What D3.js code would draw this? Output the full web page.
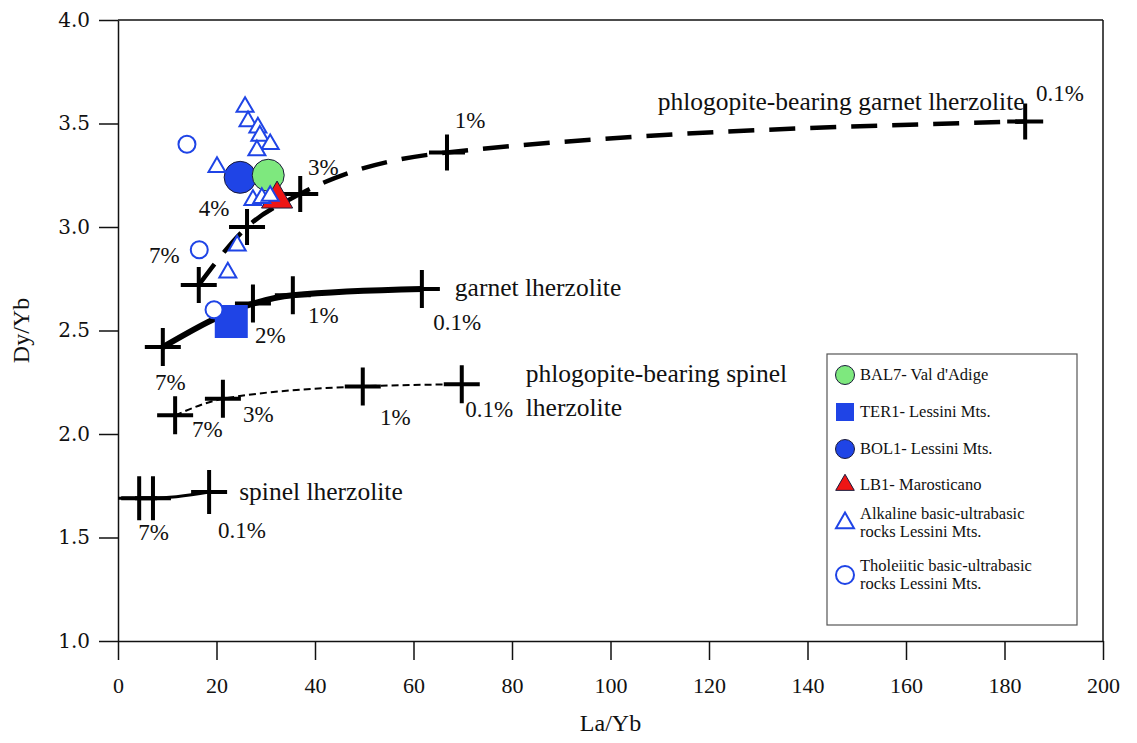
<!DOCTYPE html>
<html><head><meta charset="utf-8">
<script src="https://cdn.jsdelivr.net/npm/d3@7"></script>
<style>
body{margin:0;background:#fff}
</style>
</head><body>
<svg id="chart" width="1137" height="743" font-family="Liberation Serif, Times New Roman, serif"></svg>
<script>
// ---------- data ----------
const xTicks = [0, 20, 40, 60, 80, 100, 120, 140, 160, 180, 200];
const yTicks = [1.0, 1.5, 2.0, 2.5, 3.0, 3.5, 4.0];

// melting curves (crosses at melting degrees)
const phlogGarnetLherz = [[16.4, 2.72], [26.2, 3.00], [37.0, 3.16], [66.8, 3.36], [184.2, 3.51]];
const garnetLherz      = [[9.1, 2.42], [27.4, 2.63], [35.5, 2.67], [61.7, 2.70]];
const phlogSpinelLherz = [[11.6, 2.09], [21.3, 2.17], [49.7, 2.23], [69.8, 2.24]];
const spinelLherzLine  = [[0, 1.69], [4.3, 1.69], [7.1, 1.69], [18.5, 1.72]];
const spinelLherzCross = [[4.3, 1.69], [7.1, 1.69], [18.5, 1.72]];

// samples
const BAL7 = [[30.5, 3.25]];
const BOL1 = [[24.8, 3.24]];
const LB1  = [[32.3, 3.135]];
const TER1 = [[23.0, 2.543]];
const alkaline = [[25.8, 3.58], [26.4, 3.51], [28.4, 3.48], [28.8, 3.44], [30.9, 3.40], [28.2, 3.37],
                  [20.1, 3.29], [27.4, 3.13], [29.2, 3.14], [30.9, 3.15], [24.2, 2.91], [22.3, 2.78]];
const tholeiitic = [[14.0, 3.40], [16.5, 2.89], [19.5, 2.60]];

// curve annotations [text, x, y]
const curveLabels = [
  ["phlogopite-bearing garnet lherzolite", 109.6, 3.565],
  ["garnet lherzolite", 68.4, 2.667],
  ["phlogopite-bearing spinel", 82.8, 2.251],
  ["lherzolite", 82.8, 2.087],
  ["spinel lherzolite", 24.6, 1.681]
];
const pctLabels = [
  ["0.1%", 186.4, 3.609], ["1%", 68.4, 3.478], ["3%", 38.6, 3.251], ["4%", 16.4, 3.053], ["7%", 6.3, 2.826],
  ["0.1%", 64.0, 2.502], ["1%", 38.6, 2.536], ["2%", 27.8, 2.440], ["7%", 7.5, 2.213],
  ["0.1%", 70.5, 2.082], ["1%", 53.2, 2.043], ["3%", 25.4, 2.058], ["7%", 15.0, 1.986],
  ["7%", 4.1, 1.488], ["0.1%", 20.3, 1.498]
];
const legendItems = [
  ["BAL7- Val d'Adige"], ["TER1- Lessini Mts."], ["BOL1- Lessini Mts."], ["LB1- Marosticano"],
  ["Alkaline basic-ultrabasic", "rocks Lessini Mts."], ["Tholeiitic basic-ultrabasic", "rocks Lessini Mts."]
];

// ---------- chart ----------
const svg = d3.select("#chart");
const SERIF = "Liberation Serif, Times New Roman, serif";
const L = 118, R = 1103, T = 20, B = 641;
const x = d3.scaleLinear().domain([0, 200]).range([L, R]);
const y = d3.scaleLinear().domain([1, 4]).range([B, T]);

const BLUE = "#1f44e6", GREEN = "#7ee87e", RED = "#ee1515", DARK = "#1a1a3a";

// frame
svg.append("line").attr("x1", L).attr("x2", R).attr("y1", T).attr("y2", T).attr("stroke", "#111").attr("stroke-width", 1.5);
svg.append("line").attr("x1", R).attr("x2", R).attr("y1", T).attr("y2", B).attr("stroke", "#111").attr("stroke-width", 1.5);

const xAxis = svg.append("g").attr("transform", `translate(0,${B})`)
  .call(d3.axisBottom(x).tickValues(xTicks).tickSize(19).tickSizeOuter(0).tickPadding(17).tickFormat(d3.format("d")));
const yAxis = svg.append("g").attr("transform", `translate(${L},0)`)
  .call(d3.axisLeft(y).tickValues(yTicks).tickSize(19).tickSizeOuter(0).tickPadding(9).tickFormat(d3.format(".1f")));
[xAxis, yAxis].forEach(g => {
  g.select(".domain").attr("stroke", "#111").attr("stroke-width", 1.5);
  g.selectAll(".tick line").attr("stroke", "#111").attr("stroke-width", 1.5);
});
xAxis.attr("font-family", SERIF).attr("font-size", 22);
xAxis.selectAll(".tick text").attr("fill", "#111");
yAxis.attr("font-family", "DejaVu Serif").attr("font-size", 20);
yAxis.selectAll(".tick text").attr("fill", "#111");

svg.append("text").attr("x", (L + R) / 2).attr("y", 731).attr("text-anchor", "middle").attr("font-size", 24).attr("fill", "#111").text("La/Yb");
svg.append("text").attr("transform", `translate(29,${(T + B) / 2}) rotate(-90)`).attr("text-anchor", "middle").attr("font-size", 24).attr("fill", "#111").text("Dy/Yb");

// curves
const line = d3.line().x(d => x(d[0])).y(d => y(d[1])).curve(d3.curveMonotoneX);
svg.append("path").attr("d", line(phlogGarnetLherz)).attr("fill", "none").attr("stroke", "#000").attr("stroke-width", 4.5).attr("stroke-dasharray", "26,15");
svg.append("path").attr("d", line(garnetLherz)).attr("fill", "none").attr("stroke", "#000").attr("stroke-width", 6);
svg.append("path").attr("d", line(phlogSpinelLherz)).attr("fill", "none").attr("stroke", "#000").attr("stroke-width", 2).attr("stroke-dasharray", "7,4");
svg.append("path").attr("d", line(spinelLherzLine)).attr("fill", "none").attr("stroke", "#000").attr("stroke-width", 3);

// crosses
function crosses(data, h, v) {
  svg.append("g").selectAll("path").data(data).join("path")
    .attr("d", d => `M${x(d[0]) - h},${y(d[1])}H${x(d[0]) + h}M${x(d[0])},${y(d[1]) - v}V${y(d[1]) + v}`)
    .attr("stroke", "#000").attr("stroke-width", 4).attr("fill", "none");
}
crosses(phlogGarnetLherz, 18, 18);
crosses(garnetLherz, 18, 19);
crosses(phlogSpinelLherz, 18, 19);
crosses(spinelLherzCross, 18, 22);

// labels
svg.append("g").selectAll("text").data(curveLabels).join("text")
  .attr("x", d => x(d[1])).attr("y", d => y(d[2])).attr("font-size", 25.5).attr("fill", "#111").text(d => d[0]);
svg.append("g").selectAll("text").data(pctLabels).join("text")
  .attr("x", d => x(d[1])).attr("y", d => y(d[2])).attr("font-size", 23).attr("fill", "#111").text(d => d[0]);

// samples
const sym = (type, size) => d3.symbol().type(type).size(size)();
function markers(data, type, size, fill, stroke, sw) {
  svg.append("g").selectAll("path").data(data).join("path")
    .attr("transform", d => `translate(${x(d[0])},${y(d[1])})`)
    .attr("d", sym(type, size)).attr("fill", fill).attr("stroke", stroke).attr("stroke-width", sw);
}
markers(BOL1, d3.symbolCircle, Math.PI * 16 * 16, BLUE, DARK, 1);
markers(BAL7, d3.symbolCircle, Math.PI * 16 * 16, GREEN, DARK, 1);
markers(LB1, d3.symbolTriangle, 420, RED, DARK, 1);
markers(TER1, d3.symbolSquare, 33 * 33, BLUE, "none", 0);
markers(alkaline, d3.symbolTriangle, 125, "#fff", BLUE, 2);
markers(tholeiitic, d3.symbolCircle, Math.PI * 8.5 * 8.5, "#fff", BLUE, 2);

// legend
const lg = svg.append("g");
lg.append("rect").attr("x", 827).attr("y", 354).attr("width", 250).attr("height", 271)
  .attr("fill", "#fff").attr("stroke", "#555").attr("stroke-width", 1.2);
const legendMarks = [
  [d3.symbolCircle, Math.PI * 9.5 * 9.5, GREEN, DARK, 1],
  [d3.symbolSquare, 18 * 18, BLUE, "none", 0],
  [d3.symbolCircle, Math.PI * 9.5 * 9.5, BLUE, DARK, 1],
  [d3.symbolTriangle, 150, RED, DARK, 1],
  [d3.symbolTriangle, 140, "#fff", BLUE, 2],
  [d3.symbolCircle, Math.PI * 9 * 9, "#fff", BLUE, 2]
];
const rowY = [375, 412, 449, 485, 523, 575];
legendItems.forEach((lines, i) => {
  const m = legendMarks[i];
  lg.append("path").attr("transform", `translate(845,${rowY[i]})`).attr("d", sym(m[0], m[1]))
    .attr("fill", m[2]).attr("stroke", m[3]).attr("stroke-width", m[4]);
  const t = lg.append("text").attr("x", 860).attr("font-size", 16.5).attr("fill", "#111");
  if (lines.length === 1) {
    t.attr("y", rowY[i] + 5).text(lines[0]);
  } else {
    lines.forEach((s, k) => t.append("tspan").attr("x", 860).attr("y", rowY[i] - 4 + k * 18).text(s));
  }
});
</script>
</body></html>
